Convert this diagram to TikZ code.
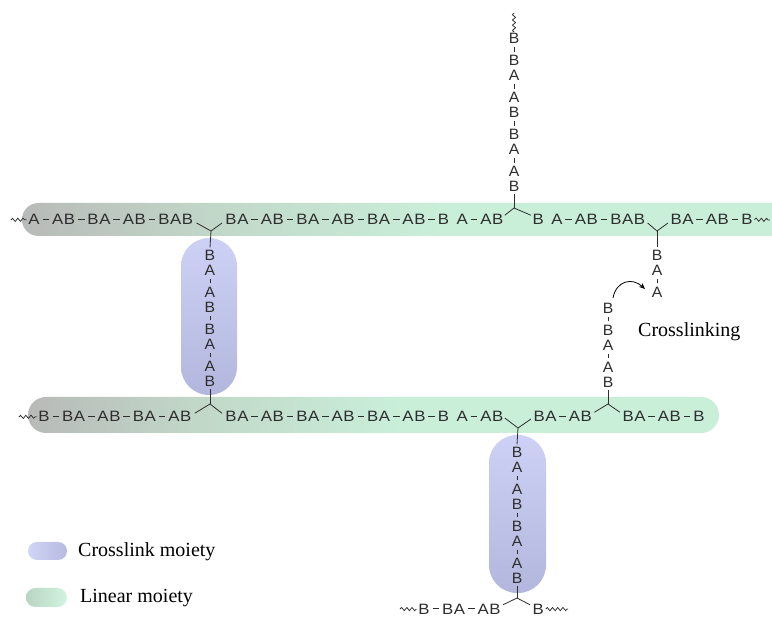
\documentclass[tikz,border=0pt]{standalone}
\usepackage{fontspec}
\setmainfont{Liberation Serif}
\newfontfamily\chainfont{Liberation Sans}
\usepackage{graphicx}
\usetikzlibrary{arrows.meta,decorations.pathmorphing}

\definecolor{bandL}{HTML}{B8BAB8}
\definecolor{bandM}{HTML}{C1D7C8}
\definecolor{bandR}{HTML}{C9EFD9}
\definecolor{xlT}{HTML}{CDD1F5}
\definecolor{xlB}{HTML}{B3B7DD}
\definecolor{lgBL}{HTML}{D0D4F6}
\definecolor{lgBR}{HTML}{B6BADF}
\definecolor{lgGL}{HTML}{B9D5C3}
\definecolor{lgGR}{HTML}{D2F4DF}
\definecolor{chainC}{HTML}{2E2E2E}

\pgfdeclarehorizontalshading{bandsh}{100bp}{color(0bp)=(bandL); color(25bp)=(bandL); color(37bp)=(bandM); color(52bp)=(bandR); color(100bp)=(bandR)}

% horizontal chain text: letters, '-' = dash, '.' = small gap
\newlength\chlw \setlength\chlw{11.8pt}
\newcommand\hlet[1]{\makebox[\chlw]{\scalebox{1.12}[1]{#1}}}
\newcommand\hdash{\makebox[\chlw]{\rule[5pt]{6.5pt}{1pt}}}
\newcommand\hspc{\hspace*{7pt}}
\def\hchitem#1{\if#1-\hdash\else\if#1.\hspc\else\hlet{#1}\fi\fi}
\def\hchloop#1{\ifx#1\relax\else\hchitem#1\expandafter\hchloop\fi}
\newcommand\hch[1]{\hchloop#1\relax}

% vertical chain text: letters, '|' = tick
\newcommand\vlet[1]{\vbox to 15pt{\vss\hbox to 12pt{\hss\scalebox{1.05}[1]{#1}\hss}\vss}}
\newcommand\vtick{\vbox to 7pt{\vss\hbox to 12pt{\hss\rule{0.9pt}{4.5pt}\hss}\vss}}
\def\vchitem#1{\if#1|\vtick\else\vlet{#1}\fi}
\def\vchloop#1{\ifx#1\relax\else\vchitem#1\expandafter\vchloop\fi}
\newcommand\vch[1]{\vbox{\offinterlineskip\vchloop#1\relax}}

\begin{document}
\begin{tikzpicture}[x=1pt,y=-1pt,
  chain/.style={inner sep=0pt, font=\chainfont\fontsize{15}{15}\selectfont, text=chainC},
  bond/.style={draw=chainC, line width=0.8pt},
  wavy/.style={draw=chainC, line width=0.75pt, decorate, decoration={snake, amplitude=1.6pt, segment length=5.2pt}},
  lbl/.style={inner sep=0pt, font=\fontsize{20}{24}\selectfont, text=black},
  arrowst/.style={draw=black, line width=0.8pt, -{Stealth[length=6pt,width=5pt]}}]
\useasboundingbox (0,0) rectangle (772,617);
\clip (0,0) rectangle (772,617);
\fill[white] (0,0) rectangle (772,617);

% bands (linear moieties)
\path[shading=bandsh, rounded corners=16.5pt] (22,203) rectangle (800,236);
\path[shading=bandsh, rounded corners=18pt] (28,397) rectangle (719,433);
% crosslink moieties
\path[top color=xlT, bottom color=xlB, rounded corners=28pt] (181,238) rectangle (237,395);
\path[top color=xlT, bottom color=xlB, rounded corners=28pt] (489,435) rectangle (546,593);

% top band text
\node[chain, anchor=south west] (t1) at (28,225) {\hch{A-AB-BA-AB-BAB}};
\node[chain, anchor=south west] (t2) at (225,225) {\hch{BA-AB-BA-AB-BA-AB-B.A-AB}};
\node[chain, anchor=south west] (t3) at (532,225) {\hch{B.A-AB-BAB}};
\node[chain, anchor=south west] (t4) at (670,225) {\hch{BA-AB-B}};
\coordinate (w1) at (11,220);
\coordinate (w2) at (770,220);
\draw[wavy] (w1) -- ([xshift=-1.5pt]t1.west);
\draw[wavy] ([xshift=1.5pt]t4.east) -- (w2);

% vertical chains
\node[chain, anchor=north] (vt) at (514,31) {\vch{B|BA|AB|BA|AB}};
\coordinate (w3) at (514,13);
\draw[wavy] ([yshift=-1pt]vt.north) -- (w3);
\node[chain, anchor=north] (lc) at (210,247.5) {\vch{BA|AB|BA|AB}};
\node[chain, anchor=north] (rc) at (517,444.5) {\vch{BA|AB|BA|AB}};
\node[chain, anchor=north] (up) at (657,247.5) {\vch{BA|A}};
\node[chain, anchor=north] (lp) at (608,300.5) {\vch{B|BA|AB}};

% bottom band text
\node[chain, anchor=south west] (b1) at (38,422) {\hch{B-BA-AB-BA-AB}};
\node[chain, anchor=south west] (b2) at (225,422) {\hch{BA-AB-BA-AB-BA-AB-B.A-AB}};
\node[chain, anchor=south west] (b3) at (533,422) {\hch{BA-AB}};
\node[chain, anchor=south west] (b4) at (622,422) {\hch{BA-AB-B}};
\coordinate (w4) at (19,417);
\draw[wavy] (w4) -- ([xshift=-1.5pt]b1.west);

% lowest chain
\node[chain, anchor=south west] (c1) at (418,614.5) {\hch{B-BA-AB}};
\node[chain, anchor=south west] (c2) at (532,614.5) {\hch{B}};
\coordinate (w5) at (400,609);
\coordinate (w6) at (568,609);
\draw[wavy] (w5) -- ([xshift=-1.5pt]c1.west);
\draw[wavy] ([xshift=1.5pt]c2.east) -- (w6);

% junctions
\coordinate (j1) at (211,231);
\draw[bond] ([xshift=3pt,yshift=2pt]t1.south east) -- (j1) -- ([xshift=-3pt,yshift=2pt]t2.south west);
\draw[bond] (j1) -- (lc.north);
\coordinate (j2) at (514,208);
\draw[bond] ([xshift=1pt,yshift=-1pt]t2.north east) -- (j2) -- ([xshift=-1pt,yshift=-1pt]t3.north west);
\draw[bond] (j2) -- (vt.south);
\coordinate (j3) at (657,231);
\draw[bond] ([xshift=2pt,yshift=2pt]t3.south east) -- (j3) -- ([xshift=-2pt,yshift=2pt]t4.south west);
\draw[bond] (j3) -- (up.north);
\coordinate (j4) at (210,404);
\draw[bond] ([xshift=3pt,yshift=-2pt]b1.north east) -- (j4) -- ([xshift=-3pt,yshift=-2pt]b2.north west);
\draw[bond] (j4) -- (lc.south);
\coordinate (j5) at (518,428);
\draw[bond] ([xshift=1pt,yshift=4pt]b2.south east) -- (j5) -- ([xshift=-2pt,yshift=3pt]b3.south west);
\draw[bond] (j5) -- (rc.north);
\coordinate (j6) at (608,404);
\draw[bond] ([xshift=2pt,yshift=-1pt]b3.north east) -- (j6) -- ([xshift=-2pt,yshift=-1pt]b4.north west);
\draw[bond] (j6) -- (lp.south);
\coordinate (j7) at (517,598);
\draw[bond] ([xshift=2pt,yshift=-1pt]c1.north east) -- (j7) -- ([xshift=-2pt,yshift=-1pt]c2.north west);
\draw[bond] (j7) -- (rc.south);

% crosslinking arrow
\coordinate (a1) at (613,298);
\coordinate (a2) at (645,289);
\draw[arrowst] (a1) .. controls (616,281) and (632,277) .. (a2);
\node[lbl, anchor=base west] (cl) at (638,336.5) {Crosslinking};

% legend
\path[left color=lgBL, right color=lgBR, rounded corners=9pt] (28,542) rectangle (67,560);
\path[left color=lgGL, right color=lgGR, rounded corners=9.5pt] (26,588) rectangle (67,607);
\node[lbl, anchor=base west] (lg1) at (78,557) {Crosslink moiety};
\node[lbl, anchor=base west] (lg2) at (80,603) {Linear moiety};
\end{tikzpicture}
\end{document}
